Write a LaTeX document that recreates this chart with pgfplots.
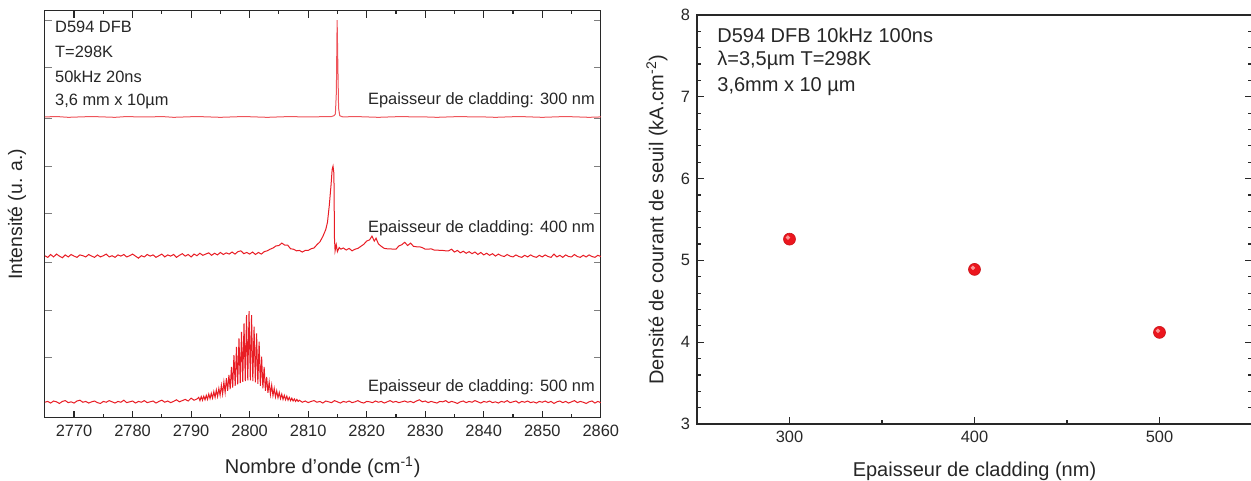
\documentclass[border=0pt]{standalone}
\usepackage{pgfplots}
\pgfplotsset{compat=1.18}
\usepackage{pgfplotstable}
\usepackage{fontspec}
\setmainfont{Liberation Sans}
\definecolor{spec}{RGB}{232,28,36}
\definecolor{axgray}{RGB}{40,40,40}
\definecolor{dot}{RGB}{236,22,30}
\definecolor{dothl}{RGB}{250,150,150}

\pgfplotstableread{
x y
2765 0.739
2767 0.740
2769 0.738
2771 0.739
2773 0.740
2775 0.739
2777 0.738
2779 0.740
2781 0.739
2783 0.739
2785 0.740
2787 0.738
2789 0.739
2791 0.740
2793 0.739
2795 0.738
2797 0.739
2799 0.740
2801 0.739
2803 0.738
2805 0.739
2807 0.740
2809 0.739
2811 0.739
2813 0.740
2814.0 0.740
2814.4 0.742
2814.65 0.746
2814.82 0.800
2814.95 0.977
2815.08 0.860
2815.2 0.760
2815.4 0.742
2815.7 0.740
2816 0.739
2818 0.740
2820 0.739
2822 0.738
2824 0.739
2826 0.740
2828 0.739
2830 0.739
2832 0.738
2834 0.739
2836 0.740
2838 0.739
2840 0.739
2842 0.738
2844 0.739
2846 0.740
2848 0.739
2850 0.738
2852 0.739
2854 0.740
2856 0.739
2858 0.738
2860 0.739
}\trA

\pgfplotstableread{
x y
2765.0 0.398
2765.5 0.394
2766.0 0.401
2766.5 0.395
2767.0 0.402
2767.5 0.397
2768.0 0.393
2768.5 0.400
2769.0 0.395
2769.5 0.401
2770.0 0.397
2770.5 0.394
2771.0 0.400
2771.5 0.398
2772.0 0.395
2772.5 0.401
2773.0 0.397
2773.5 0.394
2774.0 0.400
2774.5 0.395
2775.0 0.398
2775.5 0.402
2776.0 0.395
2776.5 0.398
2777.0 0.394
2777.5 0.400
2778.0 0.397
2778.5 0.401
2779.0 0.395
2779.5 0.398
2780.0 0.402
2780.5 0.397
2781.0 0.392
2781.5 0.398
2782.0 0.395
2782.5 0.401
2783.0 0.397
2783.5 0.400
2784.0 0.394
2784.5 0.398
2785.0 0.402
2785.5 0.395
2786.0 0.400
2786.5 0.397
2787.0 0.401
2787.5 0.394
2788.0 0.399
2788.5 0.403
2789.0 0.397
2789.5 0.401
2790.0 0.395
2790.5 0.402
2791.0 0.398
2791.5 0.404
2792.0 0.399
2792.5 0.402
2793.0 0.405
2793.5 0.399
2794.0 0.404
2794.5 0.400
2795.0 0.406
2795.5 0.401
2796.0 0.405
2796.5 0.402
2797.0 0.407
2797.5 0.402
2798.0 0.408
2798.5 0.410
2799.0 0.403
2799.5 0.406
2800.0 0.402
2800.5 0.407
2801.0 0.401
2801.5 0.406
2802.0 0.402
2802.5 0.408
2803.0 0.410
2803.5 0.414
2804.0 0.417
2804.5 0.422
2805.0 0.423
2805.5 0.429
2806.0 0.424
2806.5 0.424
2807.0 0.415
2807.5 0.414
2808.0 0.410
2808.5 0.411
2809.0 0.407
2809.5 0.411
2810.0 0.411
2810.5 0.415
2811.0 0.417
2811.5 0.425
2812.0 0.432
2812.5 0.445
2813.0 0.462
2813.3 0.480
2813.6 0.520
2813.9 0.570
2814.1 0.610
2814.25 0.618
2814.4 0.600
2814.5 0.440
2814.6 0.410
2814.8 0.425
2815.0 0.408
2815.3 0.418
2815.6 0.414
2816.0 0.417
2816.5 0.412
2817.0 0.416
2817.5 0.410
2818.0 0.414
2818.5 0.416
2819.0 0.421
2819.5 0.426
2820.0 0.434
2820.5 0.437
2820.9 0.446
2821.3 0.434
2821.6 0.441
2822.0 0.427
2822.5 0.421
2823.0 0.416
2823.5 0.415
2824.0 0.415
2824.5 0.414
2825.0 0.414
2825.5 0.422
2826.0 0.425
2826.5 0.431
2827.0 0.423
2827.5 0.429
2828.0 0.421
2828.5 0.420
2829.0 0.420
2829.5 0.418
2830.0 0.414
2830.5 0.414
2831.0 0.415
2831.5 0.412
2832.0 0.412
2832.5 0.411
2833.0 0.411
2833.5 0.410
2834.0 0.410
2834.5 0.414
2835.0 0.407
2835.5 0.411
2836.0 0.405
2836.5 0.409
2837.0 0.404
2837.5 0.408
2838.0 0.403
2838.5 0.407
2839.0 0.401
2839.5 0.406
2840.0 0.400
2840.5 0.404
2841.0 0.399
2841.5 0.403
2842.0 0.397
2842.5 0.402
2843.0 0.398
2843.5 0.396
2844.0 0.401
2844.5 0.397
2845.0 0.395
2845.5 0.400
2846.0 0.396
2846.5 0.394
2847.0 0.399
2847.5 0.395
2848.0 0.400
2848.5 0.396
2849.0 0.394
2849.5 0.399
2850.0 0.395
2850.5 0.400
2851.0 0.396
2851.5 0.394
2852.0 0.402
2852.5 0.395
2853.0 0.399
2853.5 0.394
2854.0 0.400
2854.5 0.396
2855.0 0.395
2855.5 0.401
2856.0 0.396
2856.5 0.394
2857.0 0.399
2857.5 0.395
2858.0 0.400
2858.5 0.396
2859.0 0.394
2859.5 0.399
2860.0 0.396
}\trB

\pgfplotstableread{
x y
2765.0 0.038
2765.5 0.040
2766.0 0.036
2766.5 0.041
2767.0 0.039
2767.5 0.035
2768.0 0.040
2768.5 0.042
2769.0 0.037
2769.5 0.039
2770.0 0.036
2770.5 0.041
2771.0 0.043
2771.5 0.038
2772.0 0.040
2772.5 0.036
2773.0 0.039
2773.5 0.041
2774.0 0.037
2774.5 0.035
2775.0 0.040
2775.5 0.038
2776.0 0.042
2776.5 0.039
2777.0 0.036
2777.5 0.040
2778.0 0.038
2778.5 0.043
2779.0 0.037
2779.5 0.039
2780.0 0.041
2780.5 0.036
2781.0 0.040
2781.5 0.038
2782.0 0.042
2782.5 0.037
2783.0 0.039
2783.5 0.041
2784.0 0.036
2784.5 0.040
2785.0 0.043
2785.5 0.038
2786.0 0.041
2786.5 0.037
2787.0 0.040
2787.5 0.044
2788.0 0.039
2788.5 0.042
2789.0 0.045
2789.5 0.041
2790.0 0.048
2790.5 0.043
2791.000 0.046
2791.300 0.050
2791.515 0.042
2791.730 0.052
2791.945 0.043
2792.160 0.053
2792.375 0.044
2792.590 0.055
2792.805 0.045
2793.020 0.058
2793.235 0.047
2793.450 0.060
2793.665 0.048
2793.880 0.064
2794.095 0.050
2794.310 0.068
2794.525 0.052
2794.740 0.072
2794.955 0.055
2795.170 0.080
2795.385 0.058
2795.600 0.088
2795.815 0.062
2796.030 0.097
2796.245 0.066
2796.460 0.105
2796.675 0.070
2796.890 0.125
2797.105 0.074
2797.320 0.154
2797.535 0.078
2797.750 0.174
2797.965 0.082
2798.180 0.195
2798.395 0.085
2798.610 0.211
2798.825 0.088
2799.040 0.232
2799.255 0.090
2799.470 0.252
2799.685 0.092
2799.900 0.262
2800.115 0.092
2800.330 0.252
2800.545 0.090
2800.760 0.224
2800.975 0.087
2801.190 0.207
2801.405 0.083
2801.620 0.187
2801.835 0.078
2802.050 0.150
2802.265 0.072
2802.480 0.125
2802.695 0.066
2802.910 0.100
2803.125 0.061
2803.340 0.088
2803.555 0.057
2803.770 0.080
2803.985 0.054
2804.200 0.072
2804.415 0.051
2804.630 0.066
2804.845 0.049
2805.060 0.062
2805.275 0.047
2805.490 0.058
2805.705 0.045
2805.920 0.055
2806.135 0.044
2806.350 0.053
2806.565 0.043
2806.780 0.050
2806.995 0.042
2807.210 0.048
2807.425 0.041
2807.640 0.046
2807.855 0.040
2808.070 0.045
2808.285 0.040
2808.5 0.043
2809.0 0.038
2809.5 0.041
2810.0 0.037
2810.5 0.040
2811.0 0.042
2811.5 0.038
2812.0 0.040
2812.5 0.036
2813.0 0.041
2813.5 0.039
2814.0 0.037
2814.5 0.042
2815.0 0.039
2815.5 0.036
2816.0 0.040
2816.5 0.038
2817.0 0.041
2817.5 0.037
2818.0 0.039
2818.5 0.042
2819.0 0.038
2819.5 0.036
2820.0 0.040
2820.5 0.039
2821.0 0.037
2821.5 0.041
2822.0 0.038
2822.5 0.040
2823.0 0.036
2823.5 0.039
2824.0 0.042
2824.5 0.038
2825.0 0.040
2825.5 0.037
2826.0 0.039
2826.5 0.041
2827.0 0.038
2827.5 0.040
2828.0 0.037
2828.5 0.041
2829.0 0.044
2829.5 0.039
2830.0 0.041
2830.5 0.037
2831.0 0.040
2831.5 0.038
2832.0 0.036
2832.5 0.040
2833.0 0.039
2833.5 0.042
2834.0 0.037
2834.5 0.040
2835.0 0.038
2835.5 0.035
2836.0 0.039
2836.5 0.041
2837.0 0.037
2837.5 0.040
2838.0 0.038
2838.5 0.042
2839.0 0.039
2839.5 0.036
2840.0 0.040
2840.5 0.038
2841.0 0.041
2841.5 0.037
2842.0 0.039
2842.5 0.036
2843.0 0.040
2843.5 0.038
2844.0 0.042
2844.5 0.037
2845.0 0.039
2845.5 0.041
2846.0 0.036
2846.5 0.040
2847.0 0.038
2847.5 0.041
2848.0 0.037
2848.5 0.039
2849.0 0.036
2849.5 0.040
2850.0 0.038
2850.5 0.041
2851.0 0.037
2851.5 0.040
2852.0 0.035
2852.5 0.039
2853.0 0.041
2853.5 0.037
2854.0 0.040
2854.5 0.036
2855.0 0.039
2855.5 0.042
2856.0 0.037
2856.5 0.040
2857.0 0.038
2857.5 0.035
2858.0 0.039
2858.5 0.041
2859.0 0.036
2859.5 0.040
2860.0 0.037
}\trC

\pgfplotstableread{
x y
300 5.26
400 4.89
500 4.12
}\thresh

\begin{document}
\begin{tikzpicture}
\path[use as bounding box] (0,0) rectangle (625.5pt,240.5pt);
\pgfplotsset{
  every axis/.append style={
    scale only axis,
    axis line style={axgray, line width=0.7pt},
    tick style={axgray, line width=0.6pt},
    major tick length=3.5pt,
    minor tick length=1.8pt,
    tick align=inside,
    /pgf/number format/assume math mode=true,
    ticklabel style={font=\fontsize{8.2}{9}\selectfont, text=axgray},
    label style={font=\fontsize{10}{11}\selectfont, text=black!85},
    clip=true,
  },
}
% Left panel
\begin{axis}[
  at={(22.4pt,31.65pt)}, anchor=south west,
  width=278pt, height=203.5pt,
  xmin=2765, xmax=2860, ymin=0, ymax=1,
  xtick={2770,2780,...,2860},
  minor x tick num=1,
  /pgf/number format/.cd, set thousands separator={}, /pgfplots/.cd,
  ytick={0.147,0.264,0.382,0.502,0.618,0.736,0.860,0.977},
  yticklabels={},
  ytick style={axgray!60, line width=0.4pt},
  xlabel={Nombre d'onde (cm\textsuperscript{-1})},
  ylabel={Intensité (u. a.)},
  xlabel style={at={(axis description cs:0.5,-0.121)}, anchor=center},
  ylabel style={at={(axis description cs:-0.050,0.5)}, anchor=center, font=\fontsize{9.7}{11}\selectfont},
]
\addplot[spec!75, line width=0.5pt] table[x=x,y=y] {\trA};
\addplot[spec, line width=0.5pt] table[x=x,y=y] {\trB};
\addplot[spec, line width=0.5pt] table[x=x,y=y] {\trC};
\begin{scope}[every node/.style={inner sep=0pt, font=\fontsize{8.2}{9}\selectfont, text=black!85}]
\node[anchor=west] at (axis description cs:0.018,0.960) {D594 DFB};
\node[anchor=west] at (axis description cs:0.018,0.898) {T=298K};
\node[anchor=west] at (axis description cs:0.018,0.837) {50kHz 20ns};
\node[anchor=west] at (axis description cs:0.018,0.778) {3,6 mm x 10µm};
\node[anchor=east] at (axis description cs:0.990,0.780) {Epaisseur de cladding: 300 nm};
\node[anchor=east] at (axis description cs:0.990,0.466) {Epaisseur de cladding: 400 nm};
\node[anchor=east] at (axis description cs:0.990,0.075) {Epaisseur de cladding: 500 nm};
\end{scope}
\end{axis}
% Right panel
\begin{axis}[
  at={(348.5pt,28.5pt)}, anchor=south west,
  width=277.5pt, height=204.5pt,
  xmin=250, xmax=550, ymin=3, ymax=8,
  xtick={300,400,500},
  minor xtick={350,450},
  xtick pos=bottom,
  ytick={3,4,5,6,7,8},
  minor y tick num=4,
  xlabel={Epaisseur de cladding (nm)},
  ylabel={Densité de courant de seuil (kA.cm\textsuperscript{-2})},
  xlabel style={at={(axis description cs:0.5,-0.115)}, anchor=center},
  ylabel style={at={(axis description cs:-0.072,0.5)}, anchor=center},
  clip=false,
]
\addplot[only marks, mark=*, mark size=3pt, color=dot, mark options={fill=dot, draw=dot!85!black, line width=0.3pt}] table[x=x,y=y] {\thresh};
\addplot[only marks, mark=*, mark size=0.9pt, color=dothl, mark options={fill=dothl, draw=dothl, xshift=-0.8pt, yshift=0.8pt}] table[x=x,y=y] {\thresh};
\begin{scope}[every node/.style={inner sep=0pt, font=\fontsize{10}{11}\selectfont, text=black!85}]
\node[anchor=west] at (axis description cs:0.036,0.951) {D594 DFB 10kHz 100ns};
\node[anchor=west] at (axis description cs:0.036,0.890) {λ=3,5µm T=298K};
\node[anchor=west] at (axis description cs:0.036,0.826) {3,6mm x 10 µm};
\end{scope}
\end{axis}
\end{tikzpicture}
\end{document}
